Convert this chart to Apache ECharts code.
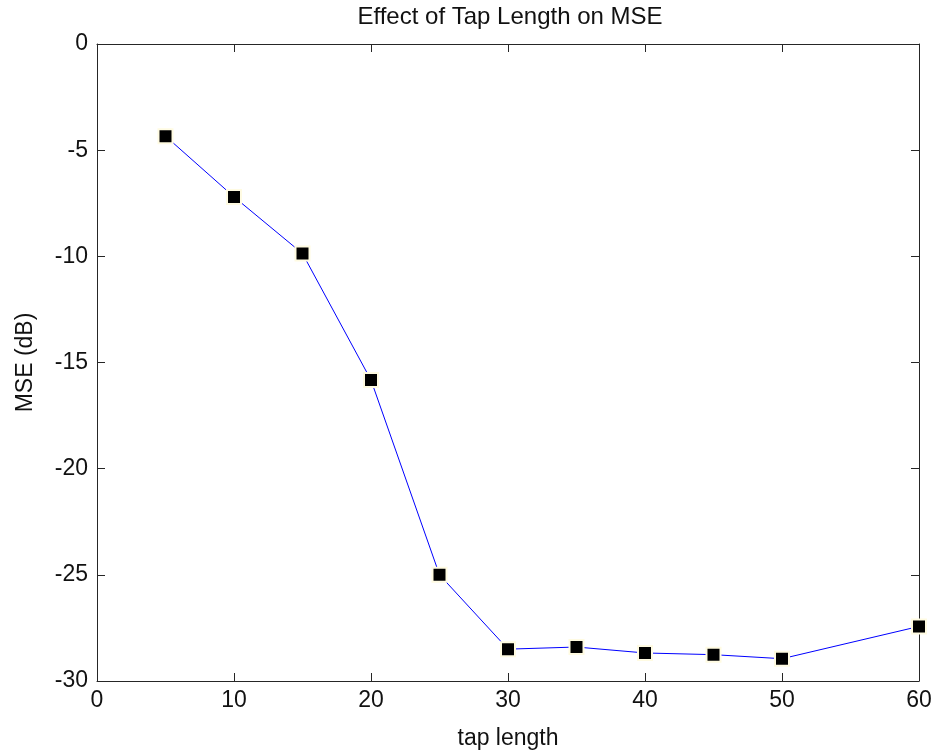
<!DOCTYPE html>
<html>
<head>
<meta charset="utf-8">
<title>Effect of Tap Length on MSE</title>
<script src="https://cdn.jsdelivr.net/npm/echarts@6/dist/echarts.min.js"></script>
<style>
  html, body { margin: 0; padding: 0; background: #ffffff; }
  #chart { width: 937px; height: 755px; }
</style>
</head>
<body>
<div id="chart"></div>
<script>
// Filter tap lengths and the resulting mean squared error (dB)
const tapLengths = [5, 10, 15, 20, 25, 30, 35, 40, 45, 50, 60];
const mseDb = [-4.34, -7.2, -9.87, -15.83, -25.0, -28.5, -28.4, -28.68, -28.76, -28.95, -27.43];

const xTicks = [0, 10, 20, 30, 40, 50, 60];
const yTicks = [0, -5, -10, -15, -20, -25, -30];

const FONT = '"Liberation Sans", Arial, sans-serif';
const AXIS_COLOR = '#262626';
const TEXT_COLOR = '#111111';

const points = tapLengths.map((t, i) => [t, mseDb[i]]);

const chart = echarts.init(document.getElementById('chart'), null, { renderer: 'canvas' });

function xAxisDef(pos, showLabels) {
  return {
    type: 'value',
    position: pos,
    min: xTicks[0],
    max: xTicks[xTicks.length - 1],
    interval: 10,
    axisLine: { show: true, onZero: false, lineStyle: { color: AXIS_COLOR, width: 1 } },
    axisTick: { show: true, inside: true, length: 8, lineStyle: { color: AXIS_COLOR, width: 1 } },
    axisLabel: { show: showLabels, color: TEXT_COLOR, fontFamily: FONT, fontSize: 23, margin: 8 },
    splitLine: { show: false },
    name: showLabels ? 'tap length' : '',
    nameLocation: 'middle',
    nameGap: 46,
    nameTextStyle: { color: TEXT_COLOR, fontFamily: FONT, fontSize: 23 }
  };
}

function yAxisDef(pos, showLabels) {
  return {
    type: 'value',
    position: pos,
    min: yTicks[yTicks.length - 1],
    max: yTicks[0],
    interval: 5,
    axisLine: { show: true, onZero: false, lineStyle: { color: AXIS_COLOR, width: 1 } },
    axisTick: { show: true, inside: true, length: 8, lineStyle: { color: AXIS_COLOR, width: 1 } },
    axisLabel: { show: showLabels, color: TEXT_COLOR, fontFamily: FONT, fontSize: 23, margin: 9 },
    splitLine: { show: false },
    name: showLabels ? 'MSE (dB)' : '',
    nameLocation: 'middle',
    nameGap: 60,
    nameRotate: 90,
    nameTextStyle: { color: TEXT_COLOR, fontFamily: FONT, fontSize: 23 }
  };
}

chart.setOption({
  backgroundColor: '#ffffff',
  animation: false,
  title: {
    text: 'Effect of Tap Length on MSE',
    left: 505,
    textAlign: 'center',
    top: 0,
    textStyle: { color: TEXT_COLOR, fontFamily: FONT, fontSize: 24, fontWeight: 'normal' }
  },
  grid: { left: 97, right: 18, top: 44, bottom: 72, containLabel: false },
  xAxis: [xAxisDef('bottom', true), xAxisDef('top', false)],
  yAxis: [yAxisDef('left', true), yAxisDef('right', false)],
  series: [{
    type: 'line',
    xAxisIndex: 0,
    yAxisIndex: 0,
    data: points,
    symbol: 'rect',
    symbolSize: 14,
    lineStyle: { color: '#0000ff', width: 1 },
    itemStyle: { color: '#000000', borderColor: '#fffbe2', borderWidth: 2 },
    emphasis: { disabled: true }
  }]
});
</script>
</body>
</html>
